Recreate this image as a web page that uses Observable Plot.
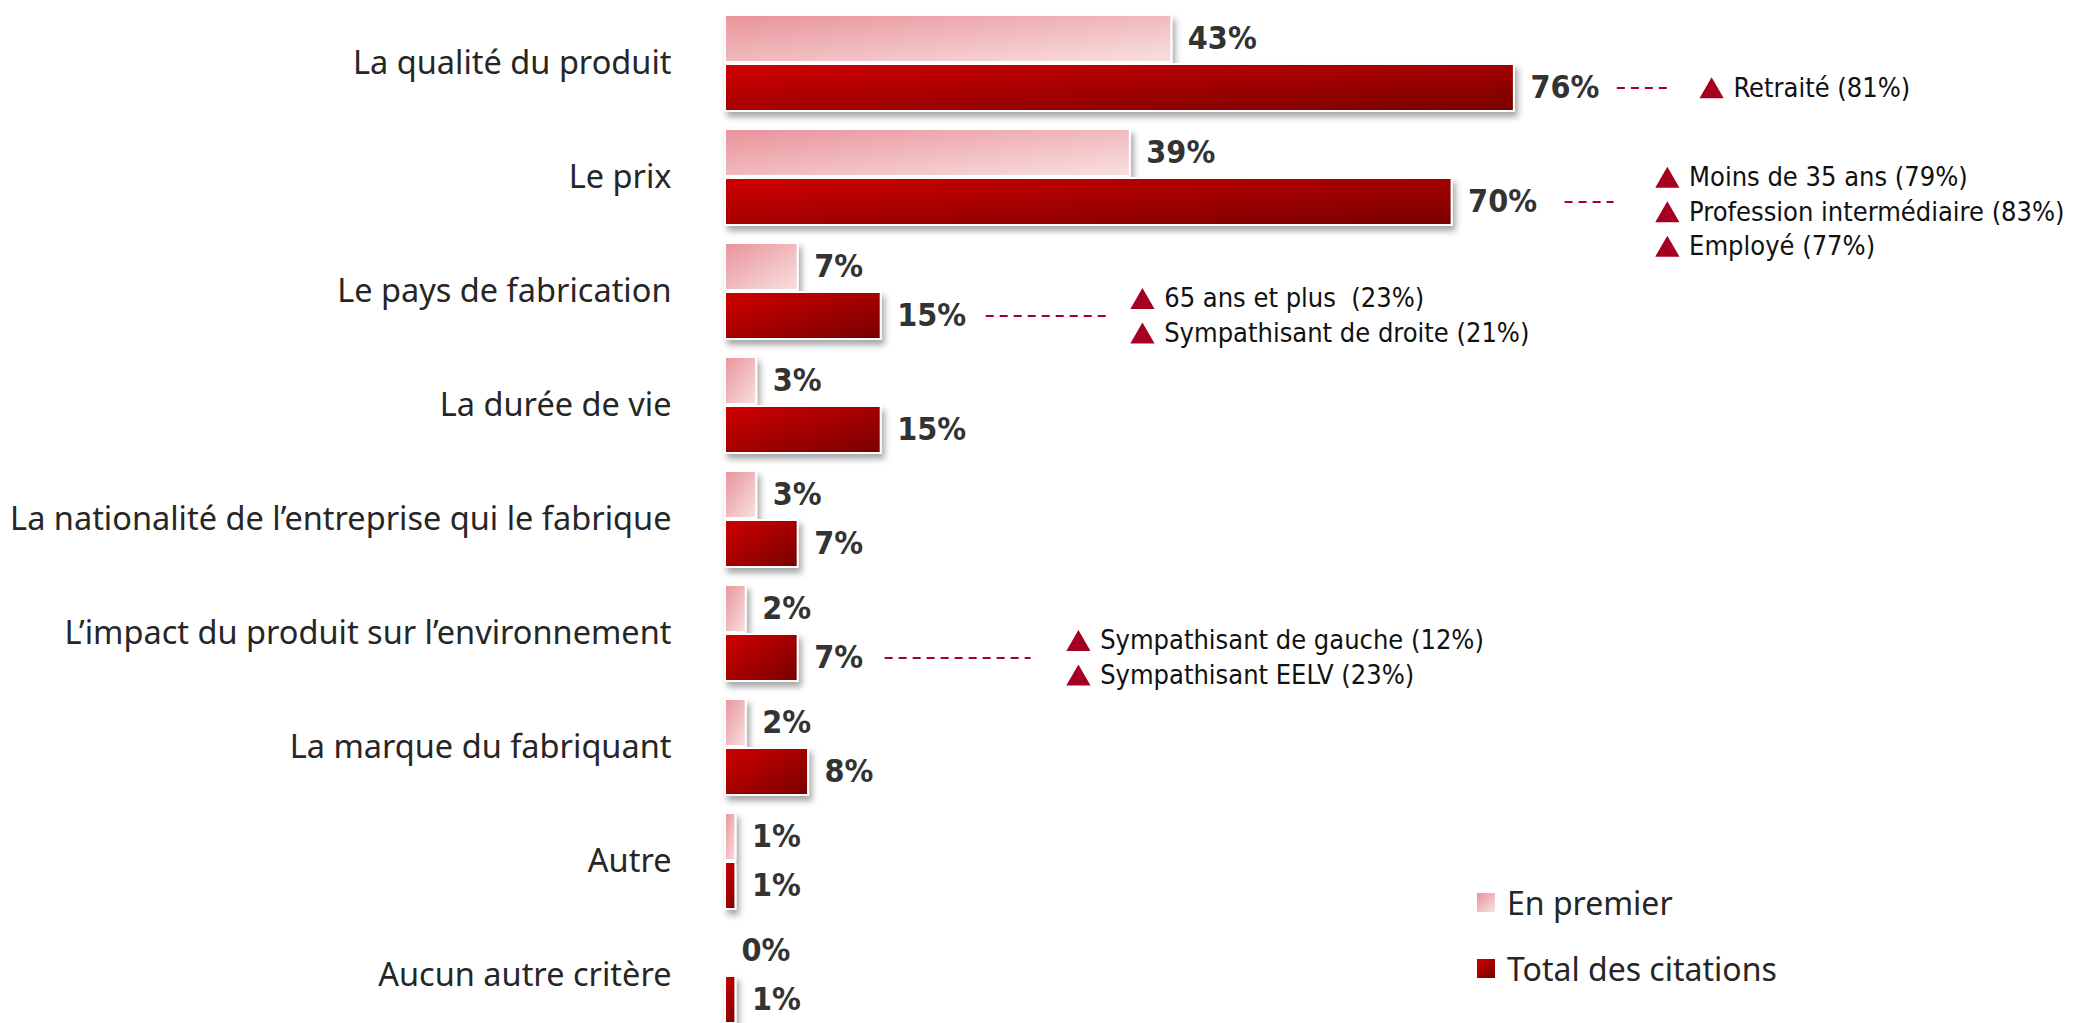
<!DOCTYPE html>
<html><head><meta charset="utf-8">
<script src="https://cdn.jsdelivr.net/npm/d3@7"></script>
<script src="https://cdn.jsdelivr.net/npm/@observablehq/plot@0.6"></script>
<style>
html,body{margin:0;padding:0;background:#fff;}
#wrap{position:relative;width:2078px;height:1023px;overflow:hidden;}
.legend{position:absolute;left:1477px;height:44px;font-family:"Noto Sans",sans-serif;font-size:32px;color:#262626;display:flex;align-items:center;white-space:nowrap;}
.sw{width:18px;height:19px;margin-right:12px;}
</style></head><body><div id="wrap"></div>
<script>
// ---- data ----
const categories = [
  "La qualité du produit",
  "Le prix",
  "Le pays de fabrication",
  "La durée de vie",
  "La nationalité de l’entreprise qui le fabrique",
  "L’impact du produit sur l’environnement",
  "La marque du fabriquant",
  "Autre",
  "Aucun autre critère"
];
const enPremier = [43, 39, 7, 3, 3, 2, 2, 1, 0];
const totalCitations = [76, 70, 15, 15, 7, 7, 8, 1, 1];
const seriesNames = ["En premier", "Total des citations"];
const calloutCategories = ["La qualité du produit", "Le prix", "Le pays de fabrication", "L’impact du produit sur l’environnement"];
const calloutLines = [
  ["Retraité (81%)"],
  ["Moins de 35 ans (79%)", "Profession intermédiaire (83%)", "Employé (77%)"],
  ["65 ans et plus  (23%)", "Sympathisant de droite (21%)"],
  ["Sympathisant de gauche (12%)", "Sympathisant EELV (23%)"]
];

// ---- layout ----
const W = 2078, H = 1023;
const marginLeft = 725, marginRight = 315, xMax = 100;
const k = (W - marginLeft - marginRight) / xMax; // px per %
const step = 114.4, band = 96, gap = 2;
const pad = (step - band) / step;
const firstTop = 13;
const r0 = firstTop - step * pad;
const yRange = [r0, r0 + step * (categories.length + pad)];
const half = band / 2 + gap / 2;
const darkOff = band / 4 + gap / 4;   // center offset of each half bar
const calloutLayout = [
  {gap: 103, len: 50, pad: 33, shift: 0},
  {gap: 113, len: 49, pad: 42, shift: 10},
  {gap: 105, len: 121, pad: 24, shift: 0},
  {gap: 87, len: 146, pad: 36, shift: 0}
];
const lineStep = 34.5;
const calloutColor = "#A50021";
const triR = 9;

const first = categories.map((c, i) => ({cat: c, series: seriesNames[0], value: enPremier[i]}));
const total = categories.map((c, i) => ({cat: c, series: seriesNames[1], value: totalCitations[i]}));

const valueFont = {fontFamily: "'Liberation Sans Narrow', 'DejaVu Sans Condensed', sans-serif", fontWeight: "bold", fontSize: 32, fill: "#333"};

const calloutMarks = [];
calloutCategories.forEach((c, j) => {
  const i = categories.indexOf(c);
  const v = totalCitations[i];
  const L = calloutLayout[j];
  const x1 = v + L.gap / k, x2 = x1 + L.len / k, xt = x2 + L.pad / k;
  calloutMarks.push(Plot.ruleY([c], {y: d => d, x1: () => x1, x2: () => x2, dy: darkOff, stroke: calloutColor, strokeWidth: 2, strokeDasharray: "8,6"}));
  const lines = calloutLines[j];
  lines.forEach((t, li) => {
    const dy = darkOff + L.shift + (li - (lines.length - 1) / 2) * lineStep;
    calloutMarks.push(Plot.dot([t], {y: () => c, x: () => xt, dx: triR * 1.25, dy: dy + triR * 0.35, symbol: "triangle", r: triR, fill: calloutColor, stroke: null}));
    calloutMarks.push(Plot.text([t], {y: () => c, x: () => xt, dx: 33, dy, text: d => d, textAnchor: "start",
      fontFamily: "'DejaVu Sans Condensed', 'DejaVu Sans', sans-serif", fontSize: 27, fill: "#111"}));
  });
});

const chart = Plot.plot({
  width: W, height: H,
  marginLeft, marginRight, marginTop: 0, marginBottom: 0,
  style: {background: "#fff", overflow: "visible"},
  x: {domain: [0, xMax], axis: null},
  y: {domain: categories, range: yRange, padding: pad, axis: null},
  marks: [
    Plot.axisY({tickSize: 0, tickPadding: marginLeft - 671, fontSize: 32.5, fontFamily: "'Noto Sans', sans-serif", fill: "#262626", label: null}),
    Plot.barX(first, {x: "value", y: "cat", insetBottom: half, fill: "url(#gLight)", stroke: "#fff", strokeWidth: 2}),
    Plot.barX(total, {x: "value", y: "cat", insetTop: half, fill: "url(#gDark)", stroke: "#fff", strokeWidth: 2}),
    Plot.text(first, {x: "value", y: "cat", dy: -darkOff, dx: 16, text: d => d.value + "%", textAnchor: "start", ...valueFont}),
    Plot.text(total, {x: "value", y: "cat", dy: darkOff, dx: 16, text: d => d.value + "%", textAnchor: "start", ...valueFont}),
    ...calloutMarks
  ]
});

// gradients + shadow
const defs = d3.select(chart).insert("defs", ":first-child");
const gl = defs.append("linearGradient").attr("id", "gLight").attr("x1", 0).attr("y1", 0).attr("x2", 1).attr("y2", 1);
gl.append("stop").attr("offset", "0%").attr("stop-color", "#E8939A");
gl.append("stop").attr("offset", "100%").attr("stop-color", "#F9E0E0");
const gd = defs.append("linearGradient").attr("id", "gDark").attr("x1", 0).attr("y1", 0).attr("x2", 1).attr("y2", 1);
gd.append("stop").attr("offset", "0%").attr("stop-color", "#D00000");
gd.append("stop").attr("offset", "100%").attr("stop-color", "#780000");
const f = defs.append("filter").attr("id", "shadow").attr("x", "-10%").attr("y", "-20%").attr("width", "130%").attr("height", "160%");
f.append("feDropShadow").attr("dx", 3).attr("dy", 5).attr("stdDeviation", 3).attr("flood-color", "#000").attr("flood-opacity", 0.35);
d3.select(chart).selectAll('g[aria-label="bar"]').attr("filter", "url(#shadow)");

const wrap = document.getElementById("wrap");
wrap.appendChild(chart);

// legend
const legendColors = ["linear-gradient(135deg,#E8939A,#F9E0E0)", "linear-gradient(135deg,#D00000,#780000)"];
const legendY = [902, 968];
seriesNames.forEach((s, i) => {
  const div = document.createElement("div");
  div.className = "legend";
  div.style.top = (legendY[i] - 22) + "px";
  div.innerHTML = `<span class="sw" style="background:${legendColors[i]}"></span><span>${s}</span>`;
  wrap.appendChild(div);
});
</script>
</body></html>
